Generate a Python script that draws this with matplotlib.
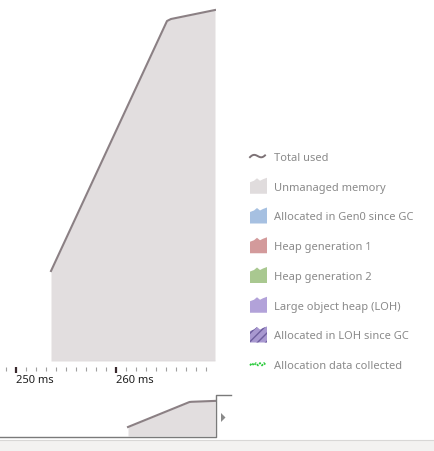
import matplotlib
matplotlib.use("Agg")
import matplotlib.pyplot as plt
from matplotlib.patches import Polygon, Rectangle
import numpy as np

plt.rcParams["font.family"] = ["Noto Sans", "DejaVu Sans"]

# data: time (ms) and memory (MB)
t_total = [253.5, 265.1, 265.5, 269.9]
total_used = [9.0, 34.0, 34.2, 35.1]
t_gen0 = [257.4, 269.9]
gen0 = [0.05, 0.05]
major_ticks = [250, 260]
major_labels = ["250 ms", "260 ms"]
minor_ticks = list(range(249, 270))
legend_labels = ["Total used", "Unmanaged memory", "Allocated in Gen0 since GC",
                 "Heap generation 1", "Heap generation 2", "Large object heap (LOH)",
                 "Allocated in LOH since GC", "Allocation data collected"]
legend_colors = ["#7d7276", "#e0dcdd", "#a6c0e1", "#d39a9b", "#a9c890", "#b2a2d9",
                 "#a898d0", "#2ecc40"]

W, H = 435, 452
FILL = "#e2dedf"
LINE = "#8b8084"


def px(x0, y0, x1, y1):
    return [x0 / W, 1 - y1 / H, (x1 - x0) / W, (y1 - y0) / H]


fig = plt.figure(figsize=(W / 100, H / 100), dpi=100)

# main chart
ax = fig.add_axes(px(0, 0, 216, 362))
ax.fill_between(t_total, total_used, 0, color=FILL, lw=0)
ax.plot(t_total, total_used, color=LINE, lw=1.5, solid_joinstyle="round")
ax.plot(t_gen0, gen0, color="#b4b0bc", lw=0.8)
ax.set_xlim(248.4, 270.0)
ax.set_ylim(0, 36.2)
for s in ["top", "right", "left"]:
    ax.spines[s].set_visible(False)
ax.spines["bottom"].set_position(("outward", 4.3))
ax.spines["bottom"].set_visible(False)
ax.set_yticks([])
ax.set_xticks(major_ticks)
ax.set_xticklabels(major_labels)
ax.set_xticks(minor_ticks, minor=True)
ax.tick_params(axis="x", which="major", direction="out", length=4, width=1.6,
               color="#3b2a2e", labelsize=8, labelcolor="#1e1e1e", pad=1)
ax.tick_params(axis="x", which="minor", direction="out", length=2.6, width=0.8,
               color="#a0a0a0")
for lab in ax.get_xticklabels():
    lab.set_horizontalalignment("left")
ax.patch.set_alpha(0)

# overview strip
axm = fig.add_axes(px(0, 396, 216, 437))
axm.fill_between(t_total, total_used, 0, color=FILL, lw=0)
axm.plot(t_total, total_used, color=LINE, lw=1.5, solid_joinstyle="round")
axm.set_xlim(229.35, 270.1)
axm.set_ylim(0, 41)
axm.set_xticks([])
axm.set_yticks([])
for s in axm.spines.values():
    s.set_visible(False)
axm.patch.set_alpha(0)

# overlay in pixel coords for legend and chrome
ov = fig.add_axes([0, 0, 1, 1])
ov.set_xlim(0, W)
ov.set_ylim(H, 0)
ov.axis("off")
ov.patch.set_alpha(0)

# overview frame
ov.plot([0, 216.5, 216.5, 231], [437.5, 437.5, 396, 396], color="#7a7a7a", lw=1.0)
ov.add_patch(Polygon([[221, 414], [221, 423], [225.5, 418.5]], closed=True,
                     color="#8a8a8a", lw=0))
# bottom bar
ov.add_patch(Rectangle((0, 441), W, 11, color="#f3f2f1", lw=0))
ov.plot([0, W], [441, 441], color="#d8d7d6", lw=0.8)

# legend
y0, dy = 157, 29.75
shape = np.array([[0, 16], [0, 4.5], [4, 3], [7, 0.5], [10, 3], [13, 1.5], [17, 0], [17, 16]])
for i, (lab, col) in enumerate(zip(legend_labels, legend_colors)):
    cy = y0 + i * dy
    if i == 0:
        xs = np.linspace(250, 265, 30)
        ys = cy + 0.5 - 2.2 * np.sin((xs - 250) / 15 * 2 * np.pi * 0.85 + 0.4) - (xs - 250) * 0.25 + 1.5
        ov.plot(xs, ys, color=col, lw=1.4)
    elif i == 7:
        xs = np.arange(250, 267, 2)
        ys = cy + np.where(np.arange(len(xs)) % 2 == 0, 1.2, -1.2)
        ov.plot(xs, ys, color=col, lw=1.3, ls=(0, (1.2, 0.8)))
    else:
        pts = shape + [250, cy - 8]
        if i == 6:
            ov.add_patch(Polygon(pts, closed=True, facecolor=col, edgecolor="#6e5e9e",
                                 hatch="////", lw=0))
        else:
            ov.add_patch(Polygon(pts, closed=True, color=col, lw=0))
    ov.text(274, cy + 1.5, lab, fontsize=8, color="#8a8a8a", va="center", ha="left")

fig.savefig("out.png", dpi=100)
